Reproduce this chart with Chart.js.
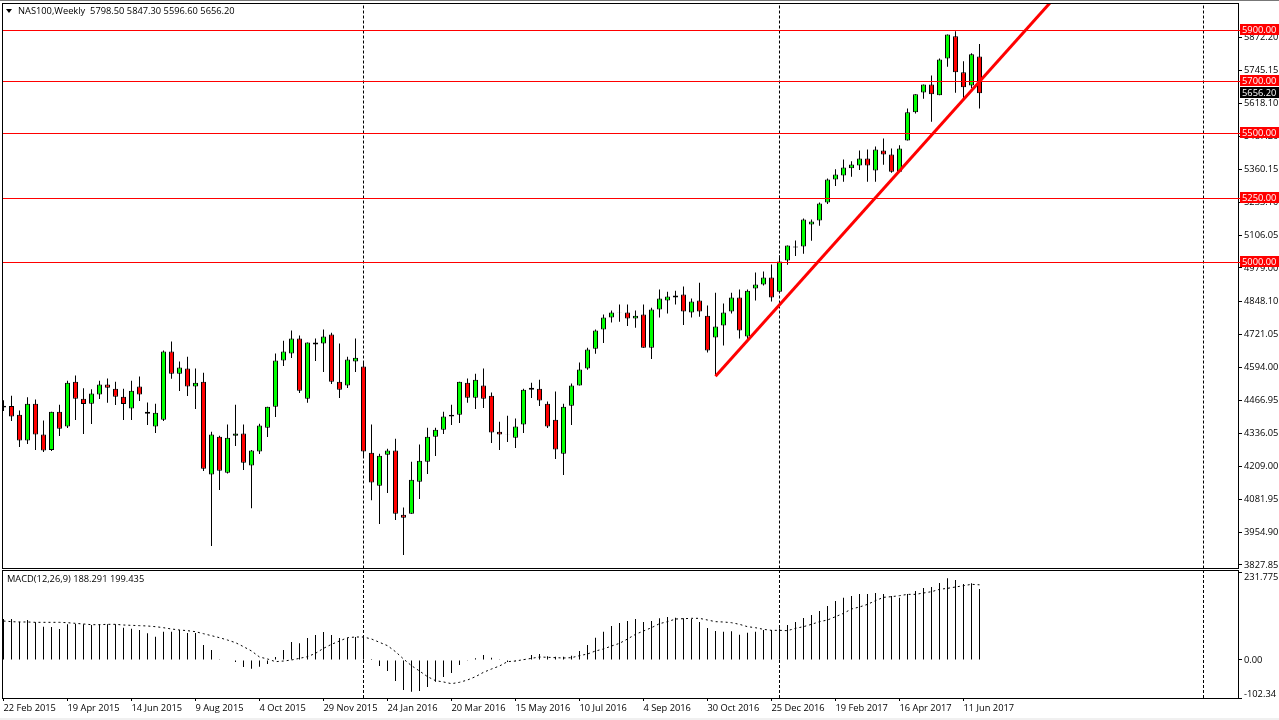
<!DOCTYPE html>
<html>
<head>
<meta charset="utf-8">
<title>NAS100,Weekly</title>
<script src="https://cdn.jsdelivr.net/npm/chart.js@4"></script>
<style>
  html, body { margin: 0; padding: 0; background: #fff; overflow: hidden; }
  canvas { position: absolute; left: 0; }
  .caption { position: absolute; font: 9.3px "Open Sans", sans-serif; color: #000; white-space: pre; line-height: 12px; }
  #topEdge { position: absolute; left: 0; top: 0; width: 1279px; height: 1px; background: #777; }
  #bottomEdge { position: absolute; left: 0; top: 718px; width: 1279px; height: 2px; background: #f0f0f0; }
  #arrow { position: absolute; left: 6px; top: 9px; width: 0; height: 0; border-left: 3.5px solid transparent; border-right: 3.5px solid transparent; border-top: 4px solid #000; }
</style>
</head>
<body>
<canvas id="priceChart" width="1279" height="570" style="top:0"></canvas>
<canvas id="macdChart" width="1279" height="150" style="top:570px"></canvas>
<div id="topEdge"></div>
<div id="bottomEdge"></div>
<div id="arrow"></div>
<div class="caption" style="left:18px;top:5px">NAS100,Weekly  5798.50 5847.30 5596.60 5656.20</div>
<div class="caption" style="left:7px;top:573px">MACD(12,26,9) 188.291 199.435</div>
<script>
// weekly candles
const opens = [4438,4444,4410,4310,4453,4333,4273,4422,4364,4538,
  4472,4453,4488,4527,4511,4480,4434,4519,4414,4364,
  4391,4655,4569,4589,4519,4538,4178,4325,4185,4329,
  4337,4213,4267,4360,4441,4620,4647,4705,4472,4690,
  4686,4721,4538,4523,4616,4597,4263,4135,4255,4271,
  4022,4026,4150,4228,4325,4352,4403,4410,4534,4476,
  4523,4484,4344,4332,4321,4372,4515,4511,4453,4391,
  4259,4445,4523,4589,4666,4740,4787,4805,4806,4783,
  4798,4670,4818,4853,4872,4876,4806,4853,4794,4709,
  4756,4810,4864,4713,4899,4915,4942,4887,5008,5058,
  5062,5147,5163,5233,5322,5337,5365,5376,5403,5357,
  5434,5419,5352,5473,5582,5659,5690,5648,5791,5877,
  5737,5686,5798.5];
const highs = [4466,4484,4426,4478,4469,4388,4422,4449,4542,4562,
  4513,4509,4542,4550,4538,4511,4542,4558,4457,4453,
  4659,4694,4616,4635,4589,4573,4344,4329,4372,4449,
  4372,4273,4375,4441,4647,4697,4736,4717,4690,4705,
  4740,4728,4686,4635,4705,4612,4372,4259,4278,4317,
  4050,4228,4295,4360,4360,4422,4449,4538,4550,4569,
  4589,4496,4383,4406,4395,4511,4534,4546,4461,4500,
  4453,4531,4612,4670,4740,4798,4814,4837,4837,4814,
  4837,4825,4895,4887,4891,4907,4860,4922,4833,4883,
  4841,4883,4895,4895,4961,4965,4992,5027,5066,5085,
  5171,5167,5233,5326,5361,5399,5392,5434,5438,5450,
  5481,5442,5454,5597,5652,5690,5725,5791,5884,5896,
  5780,5811,5847.3];
const lows = [4424,4386,4285,4297,4273,4266,4269,4328,4359,4390,
  4335,4374,4471,4456,4448,4390,4390,4463,4370,4339,
  4386,4549,4502,4483,4432,4192,3901,4118,4182,4289,
  4196,4048,4258,4324,4401,4599,4630,4494,4456,4618,
  4576,4529,4475,4514,4576,4250,4079,3986,4107,4002,
  3866,4026,4083,4180,4250,4335,4370,4378,4456,4432,
  4436,4300,4273,4304,4281,4339,4475,4444,4359,4238,
  4176,4370,4523,4584,4646,4688,4767,4770,4754,4747,
  4670,4626,4787,4802,4837,4758,4787,4790,4651,4562,
  4678,4802,4705,4697,4853,4911,4849,4883,4991,5025,
  5034,5084,5142,5227,5297,5313,5332,5359,5313,5313,
  5379,5348,5352,5473,5578,5635,5546,5648,5759,5658,
  5628,5675,5596.6];
const closes = [4445,4403,4310,4453,4333,4271,4422,4356,4534,4472,
  4452,4492,4527,4515,4480,4452,4503,4488,4422,4418,
  4655,4569,4593,4519,4534,4201,4333,4193,4321,4337,
  4224,4271,4368,4441,4620,4655,4705,4503,4690,4682,
  4713,4538,4507,4624,4631,4267,4147,4251,4271,4026,
  4011,4158,4232,4325,4352,4403,4410,4538,4476,4546,
  4472,4341,4333,4331,4364,4507,4507,4465,4364,4275,
  4441,4523,4585,4663,4736,4787,4806,4806,4783,4794,
  4670,4818,4860,4868,4864,4810,4849,4810,4659,4752,
  4806,4864,4736,4891,4915,4942,4864,5004,5066,5062,
  5167,5159,5229,5322,5341,5368,5380,5403,5376,5438,
  5419,5352,5442,5582,5652,5690,5652,5787,5884,5737,
  5679,5807,5656.2];

// MACD histogram and signal
const macdBars = [108.7,108.7,101.7,106.1,99.9,88.4,87.5,82.2,94.6,95.5,
  94.6,92.8,94.6,94.6,94.6,85.7,83.1,79.6,70.7,61.9,
  75.1,75.1,79.6,71.6,71.6,39.8,26.5,1.8,1.2,-5.3,
  -18.6,-23,-17.7,-10.6,8,26.5,47.7,44.2,58.3,66.3,
  74.3,66.3,58.3,58.3,61,61,2.7,-15.9,-29.2,-55.7,
  -79.6,-84,-82.2,-71.6,-57.5,-45.1,-34.5,-13.3,-1.8,4.4,
  13.3,6.2,0.9,-5,-3,1.8,13.3,15.9,9.7,8.8,
  8.8,11.5,23.9,39.8,59.2,75.1,90.2,98.1,103.4,108.7,
  100.8,103.4,110.5,114,112.3,110.5,108.7,100.8,84.9,76.9,
  75.1,76,67.2,72.5,75.1,79.6,79.6,84,92.8,100.8,
  111.4,119.3,130,143.2,156.5,165.3,169.7,175,175,177.7,
  175,169.7,165.3,175,183,190.9,193.6,204.2,216.6,212.2,
  201.6,203.3,188.291];
const macdSignal = [103.4,101.7,100.8,100.8,99.9,99.9,99.9,99.9,99,97.2,
  95.5,93.7,93.7,94.6,94.6,92.8,91.9,91.1,90.2,88.4,
  85.7,82.2,79.6,77.8,75.1,69.8,64.5,59.2,53,46,
  35.4,23.9,8,2.7,-4.4,-2.7,0,4.4,8.8,17.7,
  30.9,41.5,50.4,59.2,61,61,55.7,46.9,38,22.1,
  2.7,-15,-29.2,-44.2,-54.8,-58.3,-62.8,-59.2,-53,-44.2,
  -32.7,-23.9,-15.9,-4.4,-2.7,0.9,4.4,8,7.1,6.2,
  5.3,6.2,11.5,15.9,23.9,29.2,37.1,44.2,55.7,68.1,
  76.9,85.7,96.4,101.7,108.7,109.6,110.5,110.5,106.1,101.7,
  100.8,99,94.6,88.4,85.7,81.3,78.7,78.7,77.8,84,
  88.4,94.6,101.7,106.1,114.9,123.8,135.3,140.6,147.6,157.4,
  166.2,168,170.6,174.1,174.1,177.7,181.2,187.4,190.1,193.6,
  197.1,200.7,199.435];

// axis labels
const dateLabels = ['22 Feb 2015','19 Apr 2015','14 Jun 2015','9 Aug 2015','4 Oct 2015','29 Nov 2015','24 Jan 2016','20 Mar 2016',
  '15 May 2016','10 Jul 2016','4 Sep 2016','30 Oct 2016','25 Dec 2016','19 Feb 2017','16 Apr 2017','11 Jun 2017'];
const priceTicks = [5872.20,5745.15,5618.10,5487.20,5360.15,5233.10,5106.05,4979.00,4848.10,4721.05,4594.00,4466.95,4336.05,4209.00,4081.95,3954.90,3827.85];
const macdTicks = [231.775,0,-102.34];

// drawn objects: horizontal levels, dashed period lines, trend line
const levels = [5900,5700,5500,5250,5000];
const lastPrice = 5656.20;
const dashedBars = [45,97,150];
const trendBars = [89,130.8];
const trendPrices = [4559,6005.8];

const xMin = -0.0625, xMax = 154.3125;
const priceMin = 3814, priceMax = 6005.8;
const macdMin = -100.8, macdMax = 237.4;

const fontFamily = '"Open Sans", sans-serif';
const fontSize = 9.3;
const bars = closes.map((_, i) => i);

const baseX = {
  type: 'linear', min: xMin, max: xMax, offset: false
};

function noOverhang(scale) {
  scale.paddingTop = 0;
  scale.paddingBottom = 0;
  scale.paddingLeft = 0;
  scale.paddingRight = 0;
}

function dashedLines(yLow, yHigh) {
  return dashedBars.map(b => ({
    type: 'line', order: 3,
    data: [{ x: b, y: yLow }, { x: b, y: yHigh }],
    borderColor: '#000', borderWidth: 1, borderDash: [3, 2], pointRadius: 0
  }));
}

// black frame around a panel
const framePlugin = {
  id: 'frame',
  afterDraw(chart) {
    const { ctx, chartArea: a } = chart;
    const top = Math.floor(a.top) + 0.5, bottom = Math.floor(a.bottom) + 0.5;
    ctx.save();
    ctx.strokeStyle = '#000';
    ctx.lineWidth = 1;
    ctx.strokeRect(a.left - 0.5, top, a.right - a.left + 1, bottom - top);
    ctx.restore();
  }
};

// red levels and the price tags on the right axis
const levelsPlugin = {
  id: 'levels',
  afterDraw(chart) {
    const { ctx, chartArea: a, scales: { y } } = chart;
    ctx.save();
    ctx.font = fontSize + 'px ' + fontFamily;
    ctx.textBaseline = 'middle';
    const tag = (value, color) => {
      const row = Math.floor(y.getPixelForValue(value));
      ctx.fillStyle = color;
      ctx.fillRect(a.right + 2, row - 6, 39, 11);
      ctx.fillStyle = '#fff';
      ctx.fillText(value.toFixed(2), a.right + 4, row);
      return row;
    };
    levels.forEach(level => {
      const row = tag(level, '#ff0000');
      ctx.fillStyle = '#ff0000';
      ctx.fillRect(a.left, row, a.right - a.left + 2, 1);
    });
    tag(lastPrice, '#000');
    ctx.restore();
  }
};

// MACD axis labels sit inside the panel at both ends
const macdLabelsPlugin = {
  id: 'macdLabels',
  afterDraw(chart) {
    const { ctx, chartArea: a, scales: { y } } = chart;
    ctx.save();
    ctx.font = fontSize + 'px ' + fontFamily;
    ctx.fillStyle = '#000';
    ctx.textBaseline = 'top';
    ctx.fillText(macdTicks[0].toFixed(3), a.right + 6, y.getPixelForValue(macdTicks[0]));
    ctx.textBaseline = 'middle';
    ctx.fillText(macdTicks[1].toFixed(2), a.right + 6, y.getPixelForValue(macdTicks[1]));
    ctx.textBaseline = 'bottom';
    ctx.fillText(macdTicks[2].toFixed(2), a.right + 6, y.getPixelForValue(macdTicks[2]));
    ctx.restore();
  }
};

new Chart(document.getElementById('priceChart'), {
  type: 'bar',
  data: {
    datasets: [
      {
        label: 'Range', order: 2, grouped: false, barThickness: 1,
        data: bars.map(i => ({ x: i, y: [lows[i], highs[i]] })),
        backgroundColor: '#000', inflateAmount: 0
      },
      {
        label: 'NAS100', order: 1, grouped: false, barThickness: 5,
        data: bars.map(i => ({ x: i, y: [opens[i], closes[i]] })),
        backgroundColor: bars.map(i => closes[i] >= opens[i] ? '#00ff00' : '#ff0000'),
        borderColor: '#000', borderWidth: 1, borderSkipped: false, inflateAmount: 0
      },
      ...dashedLines(priceMin, priceMax),
      {
        type: 'line', label: 'Trend', order: 0,
        data: trendBars.map((b, i) => ({ x: b, y: trendPrices[i] })),
        borderColor: '#ff0000', borderWidth: 3, pointRadius: 0
      }
    ]
  },
  options: {
    responsive: false,
    animation: false,
    devicePixelRatio: 1,
    layout: { padding: { left: 3, top: 3, bottom: 1.5, right: 0 } },
    plugins: { legend: { display: false }, tooltip: { enabled: false } },
    scales: {
      x: { ...baseX, display: false, grid: { offset: false } },
      y: {
        position: 'right', min: priceMin, max: priceMax,
        afterFit(scale) { scale.width = 41; noOverhang(scale); },
        afterBuildTicks(scale) { scale.ticks = priceTicks.map(v => ({ value: v })); },
        border: { display: false },
        grid: { drawOnChartArea: false, color: '#000', tickLength: 4 },
        ticks: {
          autoSkip: false, padding: 2, color: '#000',
          font: { family: fontFamily, size: fontSize },
          callback: v => v.toFixed(2)
        }
      }
    }
  },
  plugins: [framePlugin, levelsPlugin]
});

new Chart(document.getElementById('macdChart'), {
  type: 'bar',
  data: {
    datasets: [
      {
        label: 'Histogram', order: 2, grouped: false, barThickness: 1,
        data: bars.map(i => ({ x: i, y: macdBars[i] })),
        backgroundColor: '#000', inflateAmount: 0
      },
      {
        type: 'line', label: 'Signal', order: 1,
        data: bars.map(i => ({ x: i, y: macdSignal[i] })),
        borderColor: '#000', borderWidth: 1, borderDash: [2, 3], pointRadius: 0
      },
      ...dashedLines(macdMin, macdMax)
    ]
  },
  options: {
    responsive: false,
    animation: false,
    devicePixelRatio: 1,
    layout: { padding: { left: 3, top: 0.5, bottom: 0, right: 0 } },
    plugins: { legend: { display: false }, tooltip: { enabled: false } },
    scales: {
      x: {
        ...baseX,
        afterFit(scale) { scale.height = 22; noOverhang(scale); },
        afterBuildTicks(scale) { scale.ticks = dateLabels.map((_, i) => ({ value: i * 8 })); },
        border: { display: false },
        grid: { drawOnChartArea: false, color: '#000', tickLength: 3, offset: false },
        ticks: {
          autoSkip: false, maxRotation: 0, minRotation: 0, align: 'start', padding: 2, color: '#000',
          font: { family: fontFamily, size: fontSize },
          callback: (v, i) => dateLabels[i]
        }
      },
      y: {
        position: 'right', min: macdMin, max: macdMax,
        afterFit(scale) { scale.width = 41; noOverhang(scale); },
        afterBuildTicks(scale) { scale.ticks = macdTicks.map(v => ({ value: v })); },
        border: { display: false },
        grid: { drawOnChartArea: false, color: '#000', tickLength: 4 },
        ticks: { display: false }
      }
    }
  },
  plugins: [framePlugin, macdLabelsPlugin]
});
</script>
</body>
</html>
